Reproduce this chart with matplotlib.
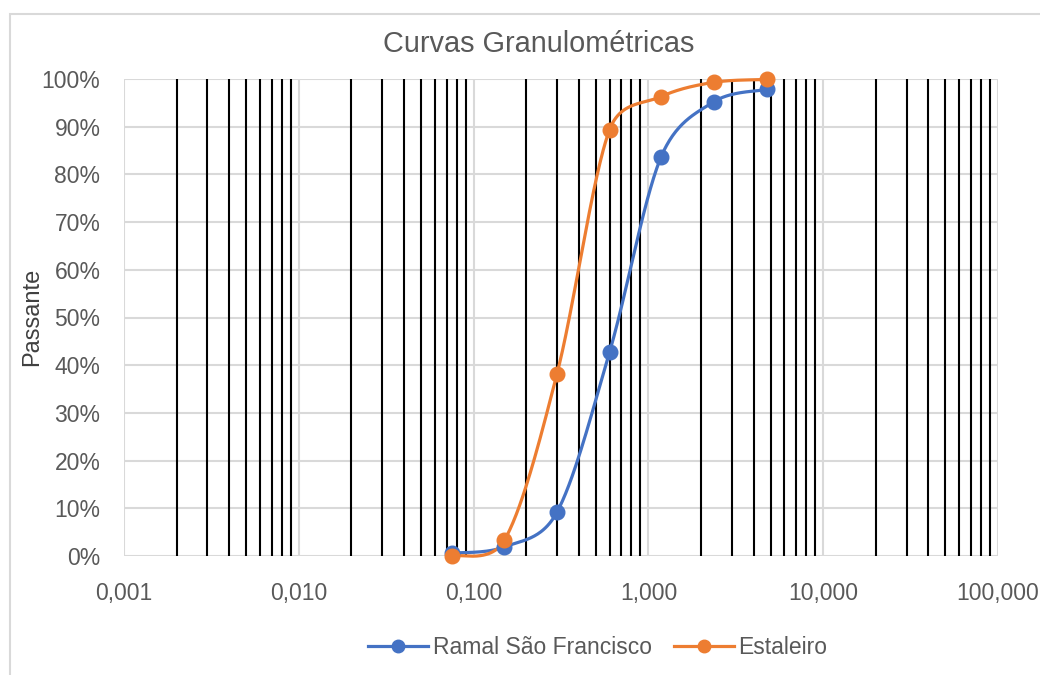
import numpy as np
import matplotlib
matplotlib.use("Agg")
import matplotlib.pyplot as plt
from matplotlib.ticker import FixedLocator, FuncFormatter
from matplotlib.patches import Rectangle

plt.rcParams['font.family'] = ['Liberation Sans', 'DejaVu Sans']

# Data
sieve_mm = [0.075, 0.15, 0.3, 0.6, 1.18, 2.36, 4.75]
ramal = [0.006, 0.019, 0.092, 0.428, 0.836, 0.952, 0.978]
estaleiro = [0.0, 0.033, 0.382, 0.894, 0.963, 0.993, 0.999]
series_names = ["Ramal São Francisco", "Estaleiro"]
colors = ["#4472C4", "#ED7D31"]
x_ticks = [0.001, 0.01, 0.1, 1, 10, 100]
x_tick_labels = ["0,001", "0,010", "0,100", "1,000", "10,000", "100,000"]
y_ticks = [0.0, 0.1, 0.2, 0.3, 0.4, 0.5, 0.6, 0.7, 0.8, 0.9, 1.0]

fig = plt.figure(figsize=(10.4, 6.75), dpi=100)
W, H = 1040, 675
# chart border (right/bottom edges run off the picture)
fig.patches.append(Rectangle((10 / W, -0.05), 1.2, (H - 14) / H + 0.05, transform=fig.transFigure,
                             fill=False, edgecolor="#d9d9d9", linewidth=1.5))
ax = fig.add_axes([124 / W, 1 - 556 / H, (998 - 124) / W, (556 - 79) / H])
ax.set_xscale('log')
ax.set_xlim(0.001, 100)
ax.set_ylim(0, 1)

# gridlines
for yv in y_ticks:
    ax.axhline(yv, color="#d9d9d9", lw=1.5, zorder=0)
for xv in x_ticks:
    ax.axvline(xv, color="#d9d9d9", lw=1.5, zorder=0)
minor_lines = [m * 10.0 ** e for e in range(-3, 2) for m in range(2, 10)]
for xv in minor_lines:
    ax.axvline(xv, color="black", lw=1.5, zorder=1)

for s in ax.spines.values():
    s.set_visible(False)

SX, SY = 174.5, 477.0


def smooth(xs, ys, n=50):
    # Excel-like smoothed line: Bezier segments, control arms = 1/6 of neighbour chord,
    # clamped to half of the segment length (computed in screen-like coordinates)
    px = np.log10(np.array(xs)) * SX
    py = np.array(ys) * SY
    P = np.column_stack([px, py])
    P = np.vstack([P[0], P, P[-1]])
    out = []
    for i in range(1, len(P) - 2):
        p0, p1, p2, p3 = P[i - 1], P[i], P[i + 1], P[i + 2]
        seg = np.linalg.norm(p2 - p1)
        a1 = (p2 - p0) / 6.0
        a2 = (p3 - p1) / 6.0
        l1, l2 = np.linalg.norm(a1), np.linalg.norm(a2)
        if l1 > seg / 2 and l1 > 0:
            a1 = a1 * (seg / 2) / l1
        if l2 > seg / 2 and l2 > 0:
            a2 = a2 * (seg / 2) / l2
        c1 = p1 + a1
        c2 = p2 - a2
        t = np.linspace(0, 1, n)[:, None]
        b = ((1 - t) ** 3) * p1 + 3 * ((1 - t) ** 2) * t * c1 + 3 * (1 - t) * t ** 2 * c2 + t ** 3 * p2
        out.append(b if i == 1 else b[1:])
    out = np.vstack(out)
    return 10 ** (out[:, 0] / SX), out[:, 1] / SY


for ys, name, c in zip([ramal, estaleiro], series_names, colors):
    sx, sy = smooth(sieve_mm, ys)
    ax.plot(sx, sy, color=c, lw=2.3, zorder=3, solid_capstyle='round', clip_on=False)
    ax.plot(sieve_mm, ys, 'o', color=c, ms=10.5, zorder=4, clip_on=False)
    ax.plot([], [], '-o', color=c, lw=2.3, ms=9, label=name)

ax.xaxis.set_major_locator(FixedLocator(x_ticks))
ax.xaxis.set_minor_locator(FixedLocator([]))
ax.set_xticklabels(x_tick_labels)
ax.yaxis.set_major_locator(FixedLocator(y_ticks))
ax.yaxis.set_major_formatter(FuncFormatter(lambda v, p: f"{v * 100:.0f}%"))
ax.tick_params(axis='both', length=0, labelsize=16.5, labelcolor="#595959")
ax.tick_params(axis='x', pad=19)
ax.tick_params(axis='y', pad=17)

fig.text(32 / W, 1 - 317 / H, "Passante", rotation=90, ha='center', va='center',
         fontsize=17, color="#404040")

fig.text(539 / W, 1 - 44 / H, "Curvas Granulométricas", ha='center', va='center',
         fontsize=20.8, color="#595959")

leg = fig.legend(loc='center', bbox_to_anchor=(598 / W, 1 - 648 / H), ncol=2, frameon=False,
                 fontsize=16.5, handlelength=2.6, columnspacing=1.0, handletextpad=0.2)
for t in leg.get_texts():
    t.set_color("#595959")

fig.savefig("out.png", dpi=100)
